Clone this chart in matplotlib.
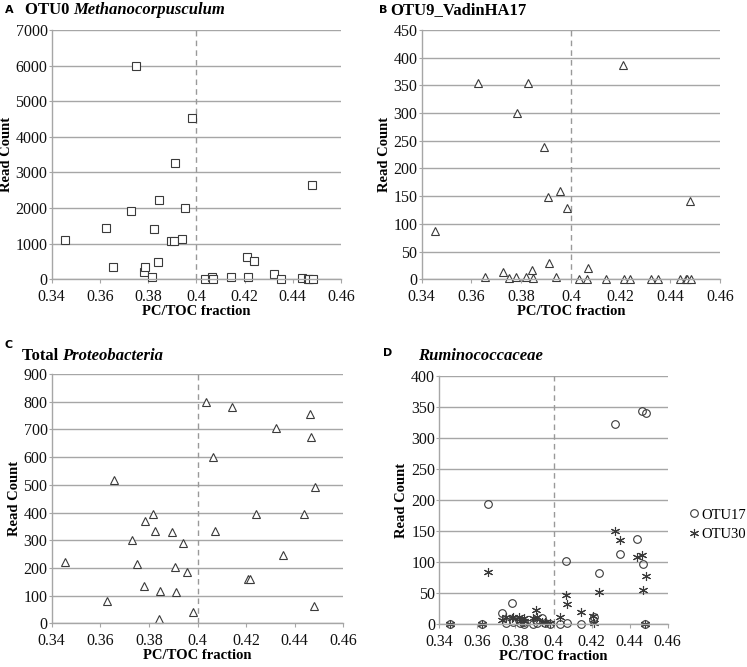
import matplotlib
matplotlib.use("Agg")
import matplotlib.pyplot as plt

# PC/TOC fraction of each sample (shared by all panels)
pc_toc = [0.3455, 0.3626, 0.3655, 0.3729, 0.3750, 0.3781, 0.3785, 0.3818,
          0.3826, 0.3843, 0.3847, 0.3894, 0.3909, 0.3912, 0.3940, 0.3955,
          0.3983, 0.4034, 0.4065, 0.4071, 0.4142, 0.4209, 0.4215, 0.4239,
          0.4322, 0.4350, 0.4438, 0.4463, 0.4468, 0.4481, 0.4485]

otu0 = [1100, 1450, 355, 1930, 6000, 200, 355, 75, 1420, 480, 2230, 1085,
        1085, 3260, 1130, 2010, 4520, 20, 75, 20, 50, 630, 75, 525, 150, 20,
        45, 10, 10, 2650, 10]

otu9 = [87, 354, 4, 14, 3, 4, 300, 5, 355, 16, 3, 239, 149, 29, 5, 159, 128,
        1, 1, 20, 1, 387, 1, 1, 1, 1, 1, 1, 1, 141, 1]

proteo = [220, 82, 517, 301, 213, 135, 369, 393, 333, 16, 117, 330, 203, 112,
          291, 186, 41, 798, 599, 333, 782, 159, 159, 393, 704, 247, 393, 756,
          671, 63, 491]

otu17 = [0, 0, 193, 17, 2, 34, 3, 6, 2, 0, 3, 0, 6, 2, 9, 1, 0, 0, 101, 1, 0,
         6, 12, 83, 323, 113, 137, 344, 96, 0, 341]

otu30 = [0, 0, 84, 7, 12, 10, 12, 12, 5, 10, 4, 10, 22, 12, 3, 3, 2, 11, 46,
         33, 20, 13, 2, 51, 150, 136, 108, 111, 55, 0, 77]

xticks = [0.34, 0.36, 0.38, 0.40, 0.42, 0.44, 0.46]
xticklabels = ["0.34", "0.36", "0.38", "0.4", "0.42", "0.44", "0.46"]

EDGE = "#3a3a3a"
GRID = "#a6a6a6"

plt.rcParams["font.family"] = "Liberation Serif"

fig = plt.figure(figsize=(7.47, 6.67), dpi=100)
renderer = fig.canvas.get_renderer()


def setup_axes(rect, ymax, ystep):
    ax = fig.add_axes(rect)
    ax.set_xlim(0.34, 0.46)
    ax.set_ylim(0, ymax)
    ax.set_xticks(xticks)
    ax.set_xticklabels(xticklabels)
    ax.set_yticks(range(0, ymax + 1, ystep))
    ax.tick_params(labelsize=11.5, labelcolor="#111111", color=GRID, width=0.8)
    ax.tick_params(axis="x", length=3, pad=4)
    ax.tick_params(axis="y", length=2, pad=1)
    for s in ["top", "right"]:
        ax.spines[s].set_visible(False)
    for s in ["left", "bottom"]:
        ax.spines[s].set_color(GRID)
        ax.spines[s].set_linewidth(1.0)
    ax.yaxis.grid(True, color=GRID, linewidth=1.0)
    ax.set_axisbelow(True)
    ax.axvline(0.4, color="#999999", linestyle=(0, (4, 3)), linewidth=1.0)
    ax.set_xlabel("PC/TOC fraction", fontsize=10.5, fontweight="bold", labelpad=0)
    ax.set_ylabel("Read Count", fontsize=10.5, fontweight="bold", labelpad=2)
    return ax


def panel_title(letter, lx, ly, x, y, parts):
    fig.text(lx, ly, letter, fontsize=8, fontweight="bold",
             family="DejaVu Sans", va="center")
    cur = x
    for txt, ital in parts:
        t = fig.text(cur, y, txt, fontsize=12, fontweight="bold",
                     style="italic" if ital else "normal", va="center")
        cur += t.get_window_extent(renderer).width / fig.bbox.width


# A
axA = setup_axes([0.0692, 0.5813, 0.3873, 0.3738], 7000, 1000)
axA.plot(pc_toc, otu0, linestyle="none", marker="s", ms=5.5, mfc="white",
         mec=EDGE, mew=0.8, clip_on=False)
panel_title("A", 0.006, 0.985, 0.033, 0.985,
            [("OTU0 ", False), ("Methanocorpusculum", True)])

# B
axB = setup_axes([0.5645, 0.5813, 0.3993, 0.3738], 450, 50)
axB.plot(pc_toc, otu9, linestyle="none", marker="^", ms=6, mfc="white",
         mec=EDGE, mew=0.8, clip_on=False)
panel_title("B", 0.508, 0.985, 0.523, 0.985, [("OTU9_VadinHA17", False)])

# C
axC = setup_axes([0.0692, 0.0655, 0.3904, 0.3738], 900, 100)
axC.plot(pc_toc, proteo, linestyle="none", marker="^", ms=6, mfc="white",
         mec=EDGE, mew=0.8, clip_on=False)
panel_title("C", 0.006, 0.483, 0.029, 0.467,
            [("Total ", False), ("Proteobacteria", True)])

# D
axD = setup_axes([0.5881, 0.0645, 0.3058, 0.3718], 400, 50)
axD.plot(pc_toc, otu17, linestyle="none", marker="o", ms=5.5, mfc="none",
         mec=EDGE, mew=0.8, clip_on=False, label="OTU17")
axD.plot(pc_toc, otu30, linestyle="none", marker=(6, 2, 0), ms=6.5,
         mec=EDGE, mew=0.8, clip_on=False, label="OTU30")
panel_title("D", 0.513, 0.471, 0.560, 0.467, [("Ruminococcaceae", True)])
axD.legend(loc="center left", bbox_to_anchor=(1.1, 0.40), frameon=False,
           fontsize=10.5, handlelength=0.5, handletextpad=0.25, labelspacing=0.45,
           borderpad=0, borderaxespad=0)

fig.savefig("out.png", dpi=100)
